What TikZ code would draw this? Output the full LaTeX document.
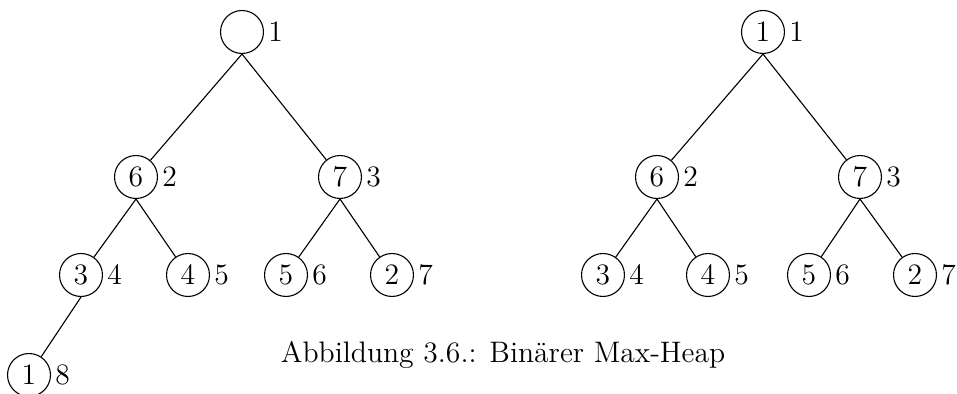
\documentclass[tikz,border=0pt]{standalone}
\begin{document}
\begin{tikzpicture}[x=0.405pt,y=-0.405pt,
  every node/.style={font=\fontsize{12}{14.4}\selectfont},
  hnode/.style={circle,draw,line width=0.45pt,minimum size=17.4pt,inner sep=0pt},
  every label/.style={inner sep=0pt,font=\fontsize{12}{14.4}\selectfont},
  label distance=1.6pt,
  edge/.style={line width=0.45pt}]
\useasboundingbox (0,0) rectangle (957,394);
% left tree
\node[hnode,label=right:1] (a1) at (242,32) {};
\node[hnode,label=right:2] (a2) at (136,177) {6};
\node[hnode,label=right:3] (a3) at (340,177) {7};
\node[hnode,label=right:4] (a4) at (81,275) {3};
\node[hnode,label=right:5] (a5) at (188,275) {4};
\node[hnode,label=right:6] (a6) at (286,275) {5};
\node[hnode,label=right:7] (a7) at (392,275) {2};
\node[hnode,label=right:8] (a8) at (29,375) {1};
\draw[edge] (a1.south) -- (a2);
\draw[edge] (a1.south) -- (a3);
\draw[edge] (a2.south) -- (a4);
\draw[edge] (a2.south) -- (a5);
\draw[edge] (a3.south) -- (a6);
\draw[edge] (a3.south) -- (a7);
\draw[edge] (a4.south) -- (a8);
% right tree
\node[hnode,label=right:1] (b1) at (763,32) {1};
\node[hnode,label=right:2] (b2) at (657,177) {6};
\node[hnode,label=right:3] (b3) at (860,177) {7};
\node[hnode,label=right:4] (b4) at (603,275) {3};
\node[hnode,label=right:5] (b5) at (708,275) {4};
\node[hnode,label=right:6] (b6) at (809,275) {5};
\node[hnode,label=right:7] (b7) at (915,275) {2};
\draw[edge] (b1.south) -- (b2);
\draw[edge] (b1.south) -- (b3);
\draw[edge] (b2.south) -- (b4);
\draw[edge] (b2.south) -- (b5);
\draw[edge] (b3.south) -- (b6);
\draw[edge] (b3.south) -- (b7);
% caption
\node[anchor=base,inner sep=0pt] (cap) at (503,363) {Abbildung 3.6.: Binärer Max-Heap};
\end{tikzpicture}
\end{document}
